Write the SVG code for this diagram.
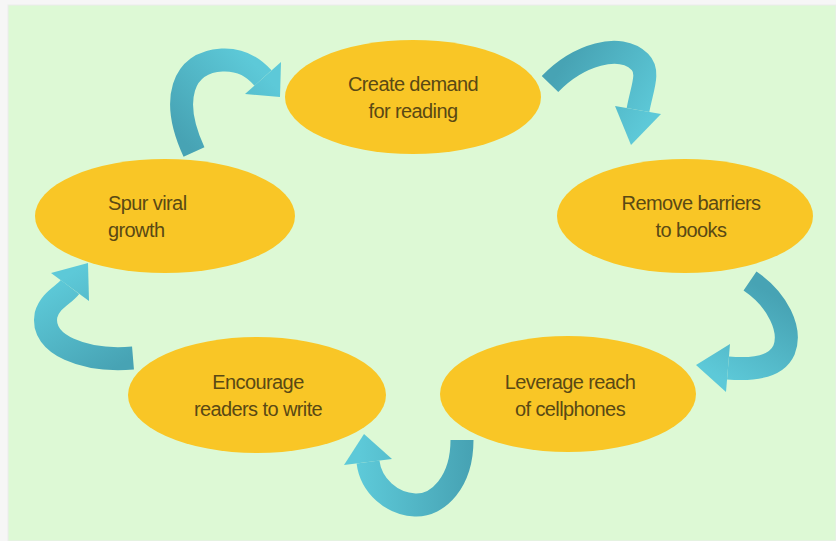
<svg xmlns="http://www.w3.org/2000/svg" width="836" height="541" viewBox="0 0 836 541">
<defs>
<style>
.node ellipse{fill:#f9c626;}
.node text{font-family:"Liberation Sans",Arial,sans-serif;font-size:20px;fill:#5a4914;text-anchor:middle;letter-spacing:-0.6px;}
.band{fill:none;stroke-width:23;stroke-linecap:butt;}
</style>
<linearGradient id="g1" gradientUnits="userSpaceOnUse" x1="194" y1="152" x2="270" y2="80"><stop offset="0" stop-color="#47a3b4"/><stop offset="1" stop-color="#5dc9d8"/></linearGradient>
<linearGradient id="g2" gradientUnits="userSpaceOnUse" x1="550" y1="84" x2="636" y2="140"><stop offset="0" stop-color="#47a3b4"/><stop offset="1" stop-color="#5dc9d8"/></linearGradient>
<linearGradient id="g3" gradientUnits="userSpaceOnUse" x1="750" y1="281" x2="700" y2="366"><stop offset="0" stop-color="#47a3b4"/><stop offset="1" stop-color="#5dc9d8"/></linearGradient>
<linearGradient id="g4" gradientUnits="userSpaceOnUse" x1="470" y1="440" x2="360" y2="440"><stop offset="0" stop-color="#47a3b4"/><stop offset="1" stop-color="#5dc9d8"/></linearGradient>
<linearGradient id="g5" gradientUnits="userSpaceOnUse" x1="133" y1="358" x2="80" y2="268"><stop offset="0" stop-color="#47a3b4"/><stop offset="1" stop-color="#5dc9d8"/></linearGradient>
</defs>
<rect x="0" y="0" width="836" height="541" fill="#f6f6f6"/>
<rect x="8" y="5" width="828" height="536" fill="#ddf9d5" stroke="#ebebeb" stroke-width="1"/>
<g id="connectors">
<path class="band" stroke="url(#g1)" d="M194,152 C170,100 182,62 222,60 C242,59 254,68 263,78"/>
<polygon fill="url(#g1)" points="245,94 281,62 280,97"/>
<path class="band" stroke="url(#g2)" d="M550,84 C578,55 620,42 640,62 C650,72 642,88 638,110"/>
<polygon fill="url(#g2)" points="661,114 615,106 631,145"/>
<path class="band" stroke="url(#g3)" d="M750,281 C778,300 792,330 784,350 C776,368 752,370 728,368"/>
<polygon fill="url(#g3)" points="730,344 726,392 696,365"/>
<path class="band" stroke="url(#g4)" d="M462,440 C462,482 438,506 415,505 C392,504 371,486 368,462"/>
<polygon fill="url(#g4)" points="392,459 344,465 364,434"/>
<path class="band" stroke="url(#g5)" d="M133,358 C85,362 40,345 46,315 C50,300 64,295 70,287"/>
<polygon fill="url(#g5)" points="89,301 51,273 88,263"/>
</g>
<g id="node-create" class="node">
<ellipse cx="413" cy="97" rx="128" ry="57"/>
<text x="413" y="91">Create demand</text>
<text x="413" y="118">for reading</text>
</g>
<g id="node-remove" class="node">
<ellipse cx="685" cy="216" rx="128" ry="57"/>
<text x="691" y="210">Remove barriers</text>
<text x="691" y="237">to books</text>
</g>
<g id="node-leverage" class="node">
<ellipse cx="568" cy="394" rx="128" ry="58"/>
<text x="570" y="389">Leverage reach</text>
<text x="570" y="416">of cellphones</text>
</g>
<g id="node-encourage" class="node">
<ellipse cx="257" cy="395" rx="129" ry="58"/>
<text x="258" y="389">Encourage</text>
<text x="258" y="416">readers to write</text>
</g>
<g id="node-spur" class="node">
<ellipse cx="165" cy="216" rx="130" ry="57"/>
<text x="108" y="210" style="text-anchor:start">Spur viral</text>
<text x="108" y="237" style="text-anchor:start">growth</text>
</g>
</svg>
